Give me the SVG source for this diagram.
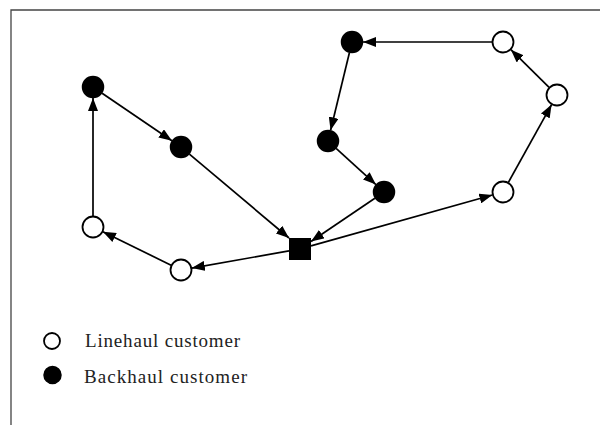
<svg xmlns="http://www.w3.org/2000/svg" width="600" height="425" viewBox="0 0 600 425">
<style>
.edge{stroke:#000;stroke-width:1.7;fill:none;marker-end:url(#arr)}
.lh{fill:#fff;stroke:#000;stroke-width:1.8}
.bh{fill:#000;stroke:#000;stroke-width:1.5}
.lbl{font-family:"Liberation Serif","Times New Roman",serif;font-size:19px;fill:#222}
</style>
<defs>
<marker id="arr" markerUnits="userSpaceOnUse" markerWidth="13" markerHeight="10" refX="13" refY="5" orient="auto">
<path d="M0,0 L13,5 L0,10 z" fill="#000"/>
</marker>
</defs>
<rect width="600" height="425" fill="#fff"/>
<path d="M11,425 V10 H600" fill="none" stroke="#444" stroke-width="1.3"/>
<g id="connectors">
<line class="edge" x1="289" y1="250.9" x2="191.8" y2="268.1"/>
<line class="edge" x1="171.1" y1="265.2" x2="102.9" y2="231.8"/>
<line class="edge" x1="93" y1="216" x2="93" y2="98"/>
<line class="edge" x1="102.1" y1="93.2" x2="171.9" y2="140.8"/>
<line class="edge" x1="189.4" y1="154.2" x2="289" y2="238"/>
<line class="edge" x1="311" y1="245.9" x2="492.4" y2="195"/>
<line class="edge" x1="508.4" y1="182.4" x2="551.6" y2="104.6"/>
<line class="edge" x1="549.1" y1="87.3" x2="510.9" y2="49.7"/>
<line class="edge" x1="492" y1="42" x2="363" y2="42"/>
<line class="edge" x1="349.4" y1="52.7" x2="330.6" y2="130.3"/>
<line class="edge" x1="336.1" y1="148.4" x2="375.9" y2="184.6"/>
<line class="edge" x1="374.9" y1="198.2" x2="311" y2="241.5"/>
</g>
<g id="depot"><rect x="289" y="238" width="22" height="22" fill="#000"/></g>
<g id="W1"><circle class="lh" cx="93" cy="227" r="10.5"/></g>
<g id="W2"><circle class="lh" cx="181" cy="270" r="10.5"/></g>
<g id="B1"><circle class="bh" cx="93" cy="87" r="10.5"/></g>
<g id="B2"><circle class="bh" cx="181" cy="147" r="10.5"/></g>
<g id="B3"><circle class="bh" cx="352" cy="42" r="10.5"/></g>
<g id="B4"><circle class="bh" cx="328" cy="141" r="10.5"/></g>
<g id="B5"><circle class="bh" cx="384" cy="192" r="10.5"/></g>
<g id="W3"><circle class="lh" cx="503" cy="42" r="10.5"/></g>
<g id="W4"><circle class="lh" cx="557" cy="95" r="10.5"/></g>
<g id="W5"><circle class="lh" cx="503" cy="192" r="10.5"/></g>
<g id="legend">
<circle class="lh" cx="52" cy="341" r="8"/>
<text class="lbl" x="85" y="347" textLength="155" lengthAdjust="spacing">Linehaul customer</text>
<circle class="bh" cx="52.5" cy="375" r="8.5"/>
<text class="lbl" x="84" y="383" textLength="163" lengthAdjust="spacing">Backhaul customer</text>
</g>
</svg>
